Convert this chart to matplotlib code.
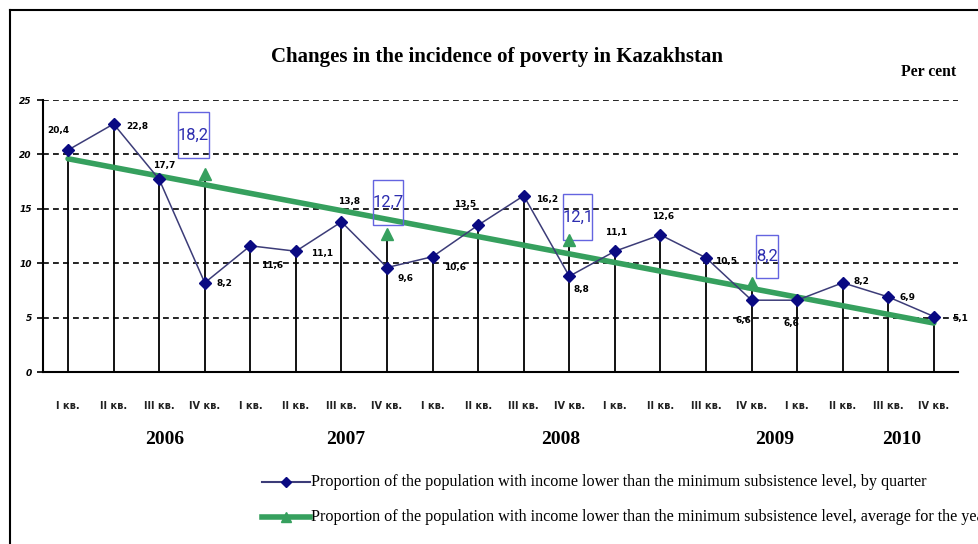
import numpy as np
import matplotlib
matplotlib.use("Agg")
import matplotlib.pyplot as plt
import matplotlib.transforms as mtransforms
from matplotlib.patches import Rectangle
from matplotlib.lines import Line2D

# quarterly share of population below subsistence minimum, %
quarters = ["I кв.", "II кв.", "III кв.", "IV кв."] * 5
q_values = [20.4, 22.8, 17.7, 8.2, 11.6, 11.1, 13.8, 9.6, 10.6, 13.5,
            16.2, 8.8, 11.1, 12.6, 10.5, 6.6, 6.6, 8.2, 6.9, 5.1]
q_labels = ["20,4", "22,8", "17,7", "8,2", "11,6", "11,1", "13,8", "9,6", "10,6", "13,5",
            "16,2", "8,8", "11,1", "12,6", "10,5", "6,6", "6,6", "8,2", "6,9", "5,1"]
years = ["2006", "2007", "2008", "2009", "2010"]
# yearly averages, drawn at IV quarter of 2006-2009
year_idx = [4, 8, 12, 16]
year_values = [18.2, 12.7, 12.1, 8.2]
year_labels = ["18,2", "12,7", "12,1", "8,2"]
# straight trend of the yearly average
trend_x = [1, 20]
trend_y = [19.6, 4.5]

x = np.arange(1, len(q_values) + 1)

NAVY = "#0a0a82"
LINE = "#3c3c78"
GREEN = "#36a05e"
BOXBLUE = "#2e2eb0"

fig = plt.figure(figsize=(9.79, 5.44), dpi=100)
fig.patch.set_facecolor("white")

# frame round the picture (left and top edges only visible)
fig.add_artist(Line2D([10/979, 10/979], [0, 1 - 10/544], transform=fig.transFigure, color="black", lw=1.5))
fig.add_artist(Line2D([10/979, 1], [1 - 10/544, 1 - 10/544], transform=fig.transFigure, color="black", lw=1.5))

ax = fig.add_axes([43/979, 1 - 372/544, (958 - 43)/979, (372 - 100)/544])
ax.set_xlim(0.45, 20.53)
ax.set_ylim(0, 25)

for g in [5, 10, 15, 20, 25]:
    ax.axhline(g, color="black", lw=1.2, ls=(0, (3.5, 2.5)), zorder=1)

# drop lines
tops = list(q_values)
for i, v in zip(year_idx, year_values):
    tops[i - 1] = max(tops[i - 1], v)
ax.vlines(x, 0, tops, color="black", lw=1.3, zorder=2)

ax.plot(trend_x, trend_y, color=GREEN, lw=4, solid_capstyle="round", zorder=3)
ax.plot(x, q_values, color=LINE, lw=1.1, marker="D", ms=6.5, mfc=NAVY, mec=NAVY, zorder=5)

# value labels, offsets in pixels
offs = [(-10, 20), (24, -3), (5, 14), (20, -1), (22, -20), (26, -2), (8, 20), (18, -11),
        (22, -11), (-13, 21), (23, -4), (12, -13), (1, 19), (3, 18), (20, -4), (-8, -20),
        (-6, -23), (19, 1), (19, -1), (26, -2)]
for xi, v, lab, (dx, dy) in zip(x, q_values, q_labels, offs):
    ax.annotate(lab, (xi, v), xytext=(dx, dy), textcoords="offset pixels",
                ha="center", va="center", fontsize=6.5, fontweight="bold", color="black", zorder=6)

# boxed yearly values
box_offs = [(-11.5, 39), (1, 31.5), (8.5, 23.5), (15, 26)]
box_wh = [(31, 46), (30, 45), (29, 46), (22, 43)]
for i, v, lab, (dx, dy), (w, h) in zip(year_idx, year_values, year_labels, box_offs, box_wh):
    tr = fig.dpi_scale_trans + mtransforms.ScaledTranslation(i, v, ax.transData)
    ax.add_patch(Rectangle(((dx - w/2)/100, (dy - h/2)/100), w/100, h/100, transform=tr,
                           fill=False, ec="#6464e0", lw=1.0, zorder=7, clip_on=False))
    ax.annotate(lab, (i, v), xytext=(dx, dy), textcoords="offset pixels", ha="center", va="center",
                fontsize=12, color=BOXBLUE, zorder=8, family="Roboto")

ax.plot(year_idx, year_values, ls="none", marker="^", ms=8, color=GREEN, zorder=9)

for s in ["top", "right"]:
    ax.spines[s].set_visible(False)
ax.spines["left"].set_linewidth(1.5)
ax.spines["bottom"].set_linewidth(1.5)

ax.set_yticks([0, 5, 10, 15, 20, 25])
ax.set_yticklabels(["0", "5", "10", "15", "20", "25"], fontsize=6.5, fontweight="bold", style="italic")
ax.tick_params(axis="y", length=4, width=1.2, pad=4)
ax.set_xticks(x)
ax.set_xticklabels(quarters, fontsize=7, fontweight="bold", color="#222222")
ax.tick_params(axis="x", length=0, pad=21)

year_pos = [3.13, 7.1, 11.8, 16.5, 19.3]
for yp, yl in zip(year_pos, years):
    ax.text(yp, -6.2, yl, ha="center", va="center", fontsize=14, fontweight="bold",
            family="Liberation Serif", clip_on=False)

fig.text(497/979, 1 - 57/544, "Changes in the incidence of poverty in Kazakhstan", ha="center", va="center",
         fontsize=15, fontweight="bold", family="Liberation Serif")
fig.text(929/979, 1 - 72/544, "Per cent", ha="center", va="center", fontsize=11.3, fontweight="bold",
         family="Liberation Serif")

# legend drawn by hand at the bottom
fig.add_artist(Line2D([262/979, 310/979], [1 - 482/544] * 2, transform=fig.transFigure, color=LINE, lw=1.5))
fig.add_artist(Line2D([286/979], [1 - 482/544], transform=fig.transFigure, marker="D", ms=5, color=NAVY, ls="none"))
fig.text(311/979, 1 - 482/544, "Proportion of the population with income lower than the minimum subsistence level, by quarter",
         ha="left", va="center", fontsize=11.6, family="Liberation Serif")
fig.add_artist(Line2D([262/979, 310/979], [1 - 517/544] * 2, transform=fig.transFigure, color=GREEN, lw=4))
fig.add_artist(Line2D([286/979], [1 - 517/544], transform=fig.transFigure, marker="^", ms=7, color=GREEN, ls="none"))
fig.text(311/979, 1 - 517/544, "Proportion of the population with income lower than the minimum subsistence level, average for the year",
         ha="left", va="center", fontsize=11.6, family="Liberation Serif")

fig.savefig("out.png", dpi=100)
